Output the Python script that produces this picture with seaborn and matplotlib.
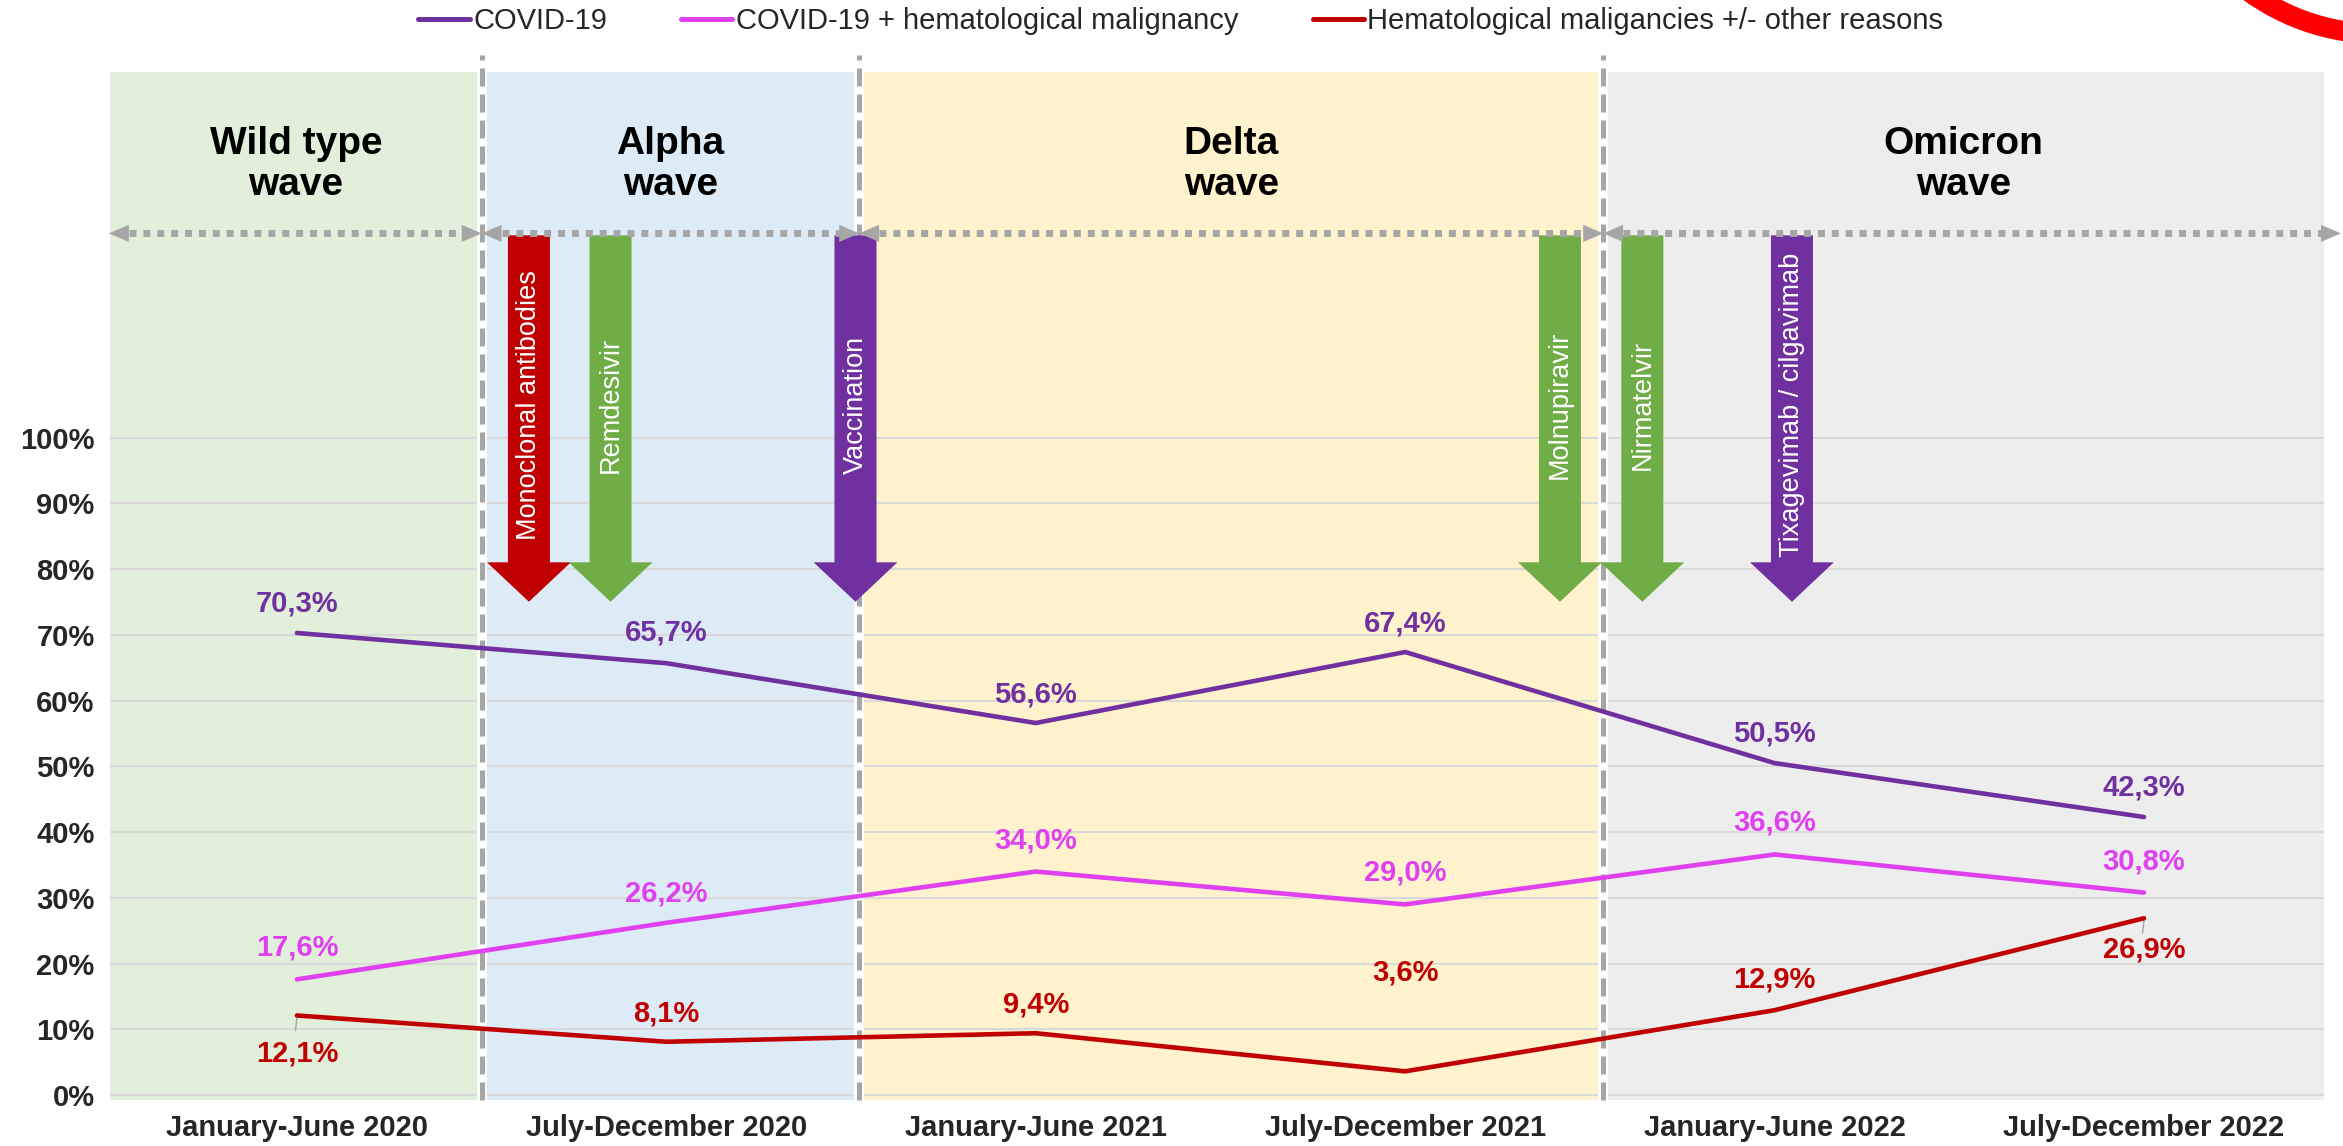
import numpy as np
import pandas as pd
import matplotlib
matplotlib.use("Agg")
import matplotlib.pyplot as plt
import seaborn as sns
from matplotlib.patches import Polygon, Arc
from matplotlib.lines import Line2D

# ---------------- data ----------------
periods = ["January-June 2020", "July-December 2020", "January-June 2021",
           "July-December 2021", "January-June 2022", "July-December 2022"]
series_names = ["COVID-19", "COVID-19 + hematological malignancy",
                "Hematological maligancies +/- other reasons"]
covid = [70.3, 65.7, 56.6, 67.4, 50.5, 42.3]
covid_hem = [17.6, 26.2, 34.0, 29.0, 36.6, 30.8]
hem_other = [12.1, 8.1, 9.4, 3.6, 12.9, 26.9]
series_colors = ["#7030A0", "#E040F0", "#C00000"]

yticks = list(range(0, 101, 10))

wave_names = ["Wild type\nwave", "Alpha\nwave", "Delta\nwave", "Omicron\nwave"]
wave_colors = ["#E2EFDA", "#DDEBF7", "#FFF2CC", "#EDEDED"]

treatments = ["Monoclonal antibodies", "Remdesivir", "Vaccination",
              "Molnupiravir", "Nirmatelvir", "Tixagevimab / cilgavimab"]
treatment_colors = ["#C00000", "#70AD47", "#7030A0", "#70AD47", "#70AD47", "#7030A0"]

# ---------------- layout / style ----------------
wave_bounds = [-0.506, 0.5, 1.522, 3.536, 5.487]
dotted_ends = [-0.509, 0.5, 1.522, 3.536, 5.533]
treatment_pos = [0.628, 0.849, 1.512, 3.419, 3.642, 4.047]
label_offsets = [[4.5, 4.7, 4.3, 4.4, 4.5, 4.5],
                 [4.9, 4.5, 4.7, 4.9, 4.8, 4.7],
                 [-5.8, 4.3, 4.4, 15.0, 4.6, -4.8]]
GRAY = "#A6A6A6"
Y_TOP = 155.7
Y_BOT = -0.76
Y_DOT = 131.1
ARROW_TOP = 130.8
ARROW_TIP = 75.05

sns.set_style("white")
plt.rcParams["font.family"] = ["Liberation Sans", "DejaVu Sans"]

fig = plt.figure(figsize=(23.43, 11.46), dpi=100)
ax = fig.add_axes([0.04695, 0.04014, 0.9449, 0.8973])

# background wave bands
for i, c in enumerate(wave_colors):
    ax.axvspan(wave_bounds[i], wave_bounds[i + 1], color=c, lw=0, zorder=0)

# lines via seaborn
x_idx = list(range(len(periods)))
df = pd.DataFrame({
    "x": x_idx * 3,
    "value": covid + covid_hem + hem_other,
    "series": [series_names[0]] * 6 + [series_names[1]] * 6 + [series_names[2]] * 6,
})
sns.lineplot(data=df, x="x", y="value", hue="series", hue_order=series_names,
             palette=series_colors, sort=False, lw=3.3, legend=False, ax=ax, zorder=7)

# data labels
for s, vals in enumerate([covid, covid_hem, hem_other]):
    for i, v in enumerate(vals):
        off = label_offsets[s][i]
        ax.text(i, v + off, f"{v:.1f}%".replace(".", ","), ha="center", va="center",
                color=series_colors[s], fontsize=21, fontweight="bold", zorder=8)
        if off < 0:
            ax.plot([i, i - 0.004], [v - 0.3, v - 2.3], color=GRAY, lw=1.0, zorder=6)

# dashed separators
for xb in wave_bounds[1:-1]:
    ax.axvline(xb, ymin=0, ymax=1, color="white", lw=7, zorder=2)
    ax.axvline(xb, ymin=0, ymax=1.016, color=GRAY, lw=3.6, ls=(0, (3.6, 1.6)),
               zorder=3, clip_on=False, solid_capstyle="butt", dash_capstyle="butt")

# dotted double arrows + wave titles
hl, hh = 0.054, 1.3
for i in range(4):
    x0, x1 = dotted_ends[i], dotted_ends[i + 1]
    ax.plot([x0 + hl, x1 - hl], [Y_DOT, Y_DOT], color=GRAY, lw=5,
            ls=(0, (1, 1)), dash_capstyle="butt", zorder=5, clip_on=False)
    ax.add_patch(Polygon([[x0, Y_DOT], [x0 + hl, Y_DOT + hh], [x0 + hl, Y_DOT - hh]],
                         closed=True, color=GRAY, lw=0, zorder=5, clip_on=False))
    ax.add_patch(Polygon([[x1, Y_DOT], [x1 - hl, Y_DOT + hh], [x1 - hl, Y_DOT - hh]],
                         closed=True, color=GRAY, lw=0, zorder=5, clip_on=False))
    ax.text((wave_bounds[i] + wave_bounds[i + 1]) / 2, 141.6, wave_names[i],
            ha="center", va="center", fontsize=28, fontweight="bold", color="black",
            linespacing=1.2, zorder=6)

# treatment arrows
for name, xp, c in zip(treatments, treatment_pos, treatment_colors):
    ax.arrow(xp, ARROW_TOP, 0, -(ARROW_TOP - ARROW_TIP), width=0.1137,
             head_width=0.227, head_length=6.0, length_includes_head=True,
             color=c, lw=0, zorder=4)
    ax.text(xp, 105, name, rotation=90, ha="center", va="center", color="white",
            fontsize=19.5, zorder=6)

# axes styling
ax.set_xlim(wave_bounds[0], wave_bounds[-1])
ax.set_ylim(Y_BOT, Y_TOP)
ax.set_yticks(yticks, [f"{t}%" for t in yticks])
ax.set_xticks(x_idx, periods)
for lab in ax.get_xticklabels() + ax.get_yticklabels():
    lab.set_fontweight("bold")
    lab.set_fontsize(21)
ax.tick_params(axis="y", length=0, pad=11)
ax.tick_params(axis="x", length=0, pad=10)
ax.grid(axis="y", color="#D9D9D9", lw=1.5)
ax.grid(axis="x", visible=False)
ax.set_axisbelow(True)
ax.set_xlabel("")
ax.set_ylabel("")
for sp in ax.spines.values():
    sp.set_visible(False)
ax.set_facecolor("white")

# legend
handles = [Line2D([0], [0], color=c, lw=3.6) for c in series_colors]
fig.legend(handles, series_names, loc="center", bbox_to_anchor=(0.504, 1 - 21 / 1146),
           ncol=3, frameon=False, fontsize=21, handlelength=1.75,
           handletextpad=0.12, columnspacing=2.55)

# red decorative arc at top-right
fig.add_artist(Arc((23.80, 13.36), 4.48, 4.48, theta1=215, theta2=290,
                   transform=fig.dpi_scale_trans, color="#FF0000", lw=14.5))

fig.savefig("out.png", dpi=100)
